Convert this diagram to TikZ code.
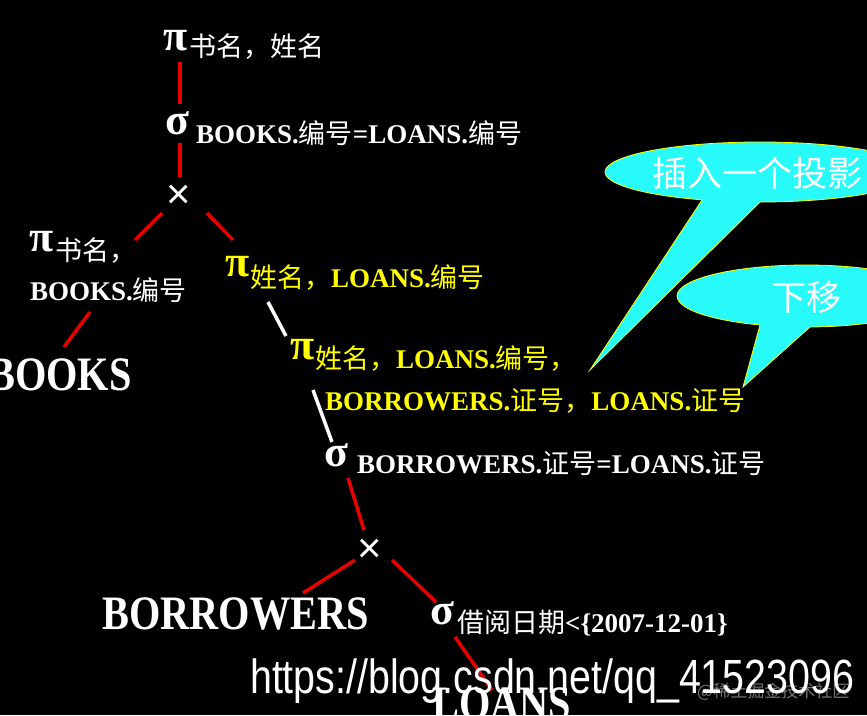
\documentclass[tikz,border=0pt]{standalone}
\usepackage{fontspec}
\setmainfont{Liberation Serif}
\setsansfont{Liberation Sans}
\newfontfamily\cjk{Noto Sans CJK SC}
\usetikzlibrary{positioning}

\begin{document}
\begin{tikzpicture}[x=1pt,y=-1pt,
    op/.style={anchor=base, inner sep=0pt, font=\fontsize{44}{46}\selectfont\bfseries},
    crossop/.style={inner sep=0pt, font=\fontsize{42}{44}\selectfont\sffamily},
    lbl/.style={anchor=base west, inner sep=0pt, font=\fontsize{27}{30}\selectfont\bfseries},
    relname/.style={anchor=base west, inner sep=0pt, xscale=0.84, font=\fontsize{48}{50}\selectfont\bfseries},
    tipText/.style={inner sep=0pt, text=white, font=\fontsize{35}{38}\selectfont\cjk},
    edge/.style={line width=3.5pt, draw=treeRed},
    wedge/.style={line width=3.5pt, draw=white}]
    \definecolor{treeRed}{RGB}{230,0,0}
    \definecolor{tipCyan}{RGB}{40,250,250}
    \definecolor{projYellow}{RGB}{255,255,0}

    \newcommand{\zh}[1]{{\cjk\mdseries #1}}

    \useasboundingbox (0,0) rectangle (867,715);
    \fill[black] (0,0) rectangle (867,715);
    \clip (0,0) rectangle (867,715);

    % top of the tree
    \node[op, text=white] (p1) at (176,50) {π};
    \node[lbl, text=white] (p1l) at (189,56) {\zh{书名，姓名}};
    \node[op, text=white] (s1) at (177,134) {σ};
    \node[lbl, text=white] (s1l) at (196,143) {BOOKS.\zh{编号}=LOANS.\zh{编号}};
    \node[crossop, text=white] (x1) at (179,197) {×};

    % left branch
    \node[op, text=white] (p2) at (42,251) {π};
    \node[lbl, text=white] (p2l) at (55,260) {\zh{书名，}};
    \node[lbl, text=white] (p2m) at (30,300) {BOOKS.\zh{编号}};
    \node[relname, text=white] (books) at (-12,390) {BOOKS};

    % right branch (moved projections)
    \node[op, text=projYellow] (p3) at (238,276) {π};
    \node[lbl, text=projYellow] (p3l) at (250,287) {\zh{姓名，}LOANS.\zh{编号}};
    \node[op, text=projYellow] (p4) at (303,359) {π};
    \node[lbl, text=projYellow] (p4l) at (315,368) {\zh{姓名，}LOANS.\zh{编号，}};
    \node[lbl, text=projYellow] (p4m) at (325,410) {BORROWERS.\zh{证号，}LOANS.\zh{证号}};
    \node[op, text=white] (s2) at (336,466) {σ};
    \node[lbl, text=white] (s2l) at (357,473) {BORROWERS.\zh{证号}=LOANS.\zh{证号}};
    \node[crossop, text=white] (x2) at (370,551) {×};
    \node[relname, text=white] (borrowers) at (102,629) {BORROWERS};
    \node[op, text=white] (s3) at (442,624) {σ};
    \node[lbl, text=white] (s3l) at (457,632) {\zh{借阅日期}<\{2007-12-01\}};
    \node[relname, text=white] (loans) at (432,719) {LOANS};

    % connector ends
    \coordinate (c1a) at (180,62);  \coordinate (c1b) at (180,104);
    \coordinate (c2a) at (180,143); \coordinate (c2b) at (180,177);
    \coordinate (c3a) at (162,213); \coordinate (c3b) at (135,240);
    \coordinate (c4a) at (207,213); \coordinate (c4b) at (233,240);
    \coordinate (c5a) at (90,312);  \coordinate (c5b) at (64,347);
    \coordinate (c6a) at (268,302); \coordinate (c6b) at (286,336);
    \coordinate (c7a) at (313,390); \coordinate (c7b) at (332,442);
    \coordinate (c8a) at (348,478); \coordinate (c8b) at (364,530);
    \coordinate (c9a) at (355,560); \coordinate (c9b) at (303,593);
    \coordinate (c10a) at (392,560); \coordinate (c10b) at (436,602);
    \coordinate (c11a) at (455,637); \coordinate (c11b) at (492,690);

    \draw[edge] (c1a) -- (c1b);
    \draw[edge] (c2a) -- (c2b);
    \draw[edge] (c3a) -- (c3b);
    \draw[edge] (c4a) -- (c4b);
    \draw[edge] (c5a) -- (c5b);
    \draw[wedge] (c6a) -- (c6b);
    \draw[wedge] (c7a) -- (c7b);
    \draw[edge] (c8a) -- (c8b);
    \draw[edge] (c9a) -- (c9b);
    \draw[edge] (c10a) -- (c10b);
    \draw[edge] (c11a) -- (c11b);

    % callouts
    \filldraw[fill=tipCyan, draw=projYellow, line width=0.8pt] (760,172) ellipse [x radius=155pt, y radius=30pt];
    \fill[tipCyan] (707.6,191.5) -- (590,370) -- (768.5,193.6) -- cycle;
    \draw[projYellow, line width=0.8pt] (702,200) -- (590,370) -- (760,202);
    \node[tipText] (tip1) at (757,173) {插入一个投影};

    \filldraw[fill=tipCyan, draw=projYellow, line width=0.8pt] (806,296) ellipse [x radius=129pt, y radius=31pt];
    \fill[tipCyan] (760.9,321.9) -- (743,387) -- (813.4,324) -- cycle;
    \draw[projYellow, line width=0.8pt] (760,325) -- (743,387) -- (810,327);
    \node[tipText] (tip2) at (806,297) {下移};

    % watermark
    \node[anchor=base west, inner sep=0pt, xscale=0.82, text=white, font=\fontsize{48}{50}\selectfont\sffamily] (url) at (250,693) {https://blog.csdn.net/qq\_41523096};
    \node[anchor=base west, inner sep=0pt, text=white, opacity=0.45, font=\fontsize{17}{19}\selectfont\cjk] (mark) at (697,697) {@稀土掘金技术社区};
\end{tikzpicture}
\end{document}
